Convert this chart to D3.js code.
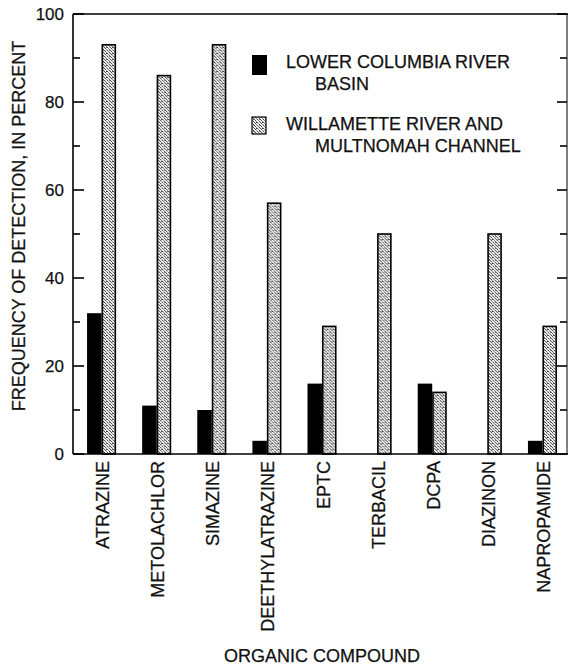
<!DOCTYPE html>
<html>
<head>
<meta charset="utf-8">
<script src="https://cdn.jsdelivr.net/npm/d3@7"></script>
<style>
  body { margin: 0; background: #fff; }
  text { font-family: "Liberation Sans", Arial, sans-serif; fill: #111; stroke: #111; stroke-width: 0.25px; }
</style>
</head>
<body>
<svg id="chart" width="568" height="668"></svg>
<script>
var compounds = ["ATRAZINE", "METOLACHLOR", "SIMAZINE", "DEETHYLATRAZINE", "EPTC",
                 "TERBACIL", "DCPA", "DIAZINON", "NAPROPAMIDE"];
var lowerColumbia = [32, 11, 10, 3, 16, 0, 16, 0, 3];
var willamette = [93, 86, 93, 57, 29, 50, 14, 50, 29];
var seriesNames = ["LOWER COLUMBIA RIVER|BASIN", "WILLAMETTE RIVER AND|MULTNOMAH CHANNEL"];
var yTicks = [0, 20, 40, 60, 80, 100];

var svg = d3.select("svg#chart");

var plotLeft = 73, plotRight = 567, plotTop = 14, plotBottom = 454;

// stipple texture for the Willamette bars (fixed dot layout in a 6x6 tile)
var dots = [[0,0],[3,0],[1,1],[4,1],[5,2],[2,2],[0,3],[3,3],[1,4],[4,4],[2,5],[5,5],[1,2],[4,5]];
var defs = svg.append("defs");
var pat = defs.append("pattern")
    .attr("id", "stipple")
    .attr("width", 6).attr("height", 6)
    .attr("patternUnits", "userSpaceOnUse");
pat.append("rect").attr("width", 6).attr("height", 6).attr("fill", "#f2f2f2");
pat.selectAll("rect.dot")
    .data(dots)
    .enter().append("rect")
    .attr("class", "dot")
    .attr("x", function(d) { return d[0]; })
    .attr("y", function(d) { return d[1]; })
    .attr("width", 1).attr("height", 1)
    .attr("fill", function(d, i) { return i % 3 == 0 ? "#888" : "#444"; });

var x0 = d3.scaleBand()
    .domain(compounds)
    .range([74.5, 570.5]);

var x1 = d3.scaleBand()
    .domain([0, 1])
    .range([-15, 14]);

var y = d3.scaleLinear()
    .domain([0, 100])
    .range([plotBottom, plotTop]);

var data = compounds.map(function(c, i) {
    return { name: c, values: [lowerColumbia[i], willamette[i]] };
});

// bars
var groups = svg.append("g").selectAll("g")
    .data(data)
    .enter().append("g")
    .attr("transform", function(d) { return "translate(" + (x0(d.name) + x0.bandwidth() / 2) + ",0)"; });

groups.selectAll("rect")
    .data(function(d) {
        return d.values.map(function(v, k) { return { k: k, v: v }; })
            .filter(function(e) { return e.v > 0; });
    })
    .enter().append("rect")
    .attr("x", function(d) { return x1(d.k) + (d.k == 1 ? 0.75 : 0); })
    .attr("width", function(d) { return x1.bandwidth() - (d.k == 1 ? 1.5 : 0); })
    .attr("y", function(d) { return y(d.v); })
    .attr("height", function(d) { return y(0) - y(d.v); })
    .attr("fill", function(d) { return d.k == 0 ? "#000" : "url(#stipple)"; })
    .attr("stroke", function(d) { return d.k == 0 ? "none" : "#000"; })
    .attr("stroke-width", 1.6);

// left axis line + inward ticks
var tickVals = d3.range(0, 101, 10);
svg.append("line")
    .attr("x1", plotLeft).attr("x2", plotLeft)
    .attr("y1", y(0)).attr("y2", y(100))
    .attr("stroke", "#000").attr("stroke-width", 1.6);
svg.append("g").selectAll("line")
    .data(tickVals)
    .enter().append("line")
    .attr("x1", plotLeft)
    .attr("x2", function(d) { return plotLeft + (d % 20 == 0 ? 11 : 7); })
    .attr("y1", function(d) { return y(d); })
    .attr("y2", function(d) { return y(d); })
    .attr("stroke", "#000").attr("stroke-width", 1.6);

svg.append("g").selectAll("text")
    .data(yTicks)
    .enter().append("text")
    .attr("x", 64)
    .attr("y", function(d) { return y(d) + 6; })
    .attr("text-anchor", "end")
    .attr("font-size", 17)
    .text(function(d) { return d; });

// right axis ticks
svg.append("line")
    .attr("x1", plotRight).attr("x2", plotRight)
    .attr("y1", y(0)).attr("y2", y(100))
    .attr("stroke", "#000").attr("stroke-width", 1);
svg.append("g").selectAll("line")
    .data(tickVals)
    .enter().append("line")
    .attr("x1", plotRight)
    .attr("x2", function(d) { return plotRight - (d % 20 == 0 ? 10 : 7); })
    .attr("y1", function(d) { return y(d); })
    .attr("y2", function(d) { return y(d); })
    .attr("stroke", "#000").attr("stroke-width", 1.6);

// top and bottom borders
svg.append("line").attr("x1", plotLeft).attr("x2", 568).attr("y1", y(100)).attr("y2", y(100))
    .attr("stroke", "#000").attr("stroke-width", 1.3);
svg.append("line").attr("x1", plotLeft).attr("x2", 568).attr("y1", y(0)).attr("y2", y(0))
    .attr("stroke", "#000").attr("stroke-width", 1.6);

// category labels
svg.append("g").selectAll("text")
    .data(compounds)
    .enter().append("text")
    .attr("transform", function(d) {
        return "translate(" + (x0(d) + x0.bandwidth() / 2 + 7) + "," + 461 + ") rotate(-90)";
    })
    .attr("text-anchor", "end")
    .attr("font-size", 18)
    .text(function(d) { return d; });

// axis titles
svg.append("text")
    .attr("transform", "translate(25," + 226 + ") rotate(-90)")
    .attr("text-anchor", "middle")
    .attr("font-size", 18)
    .text("FREQUENCY OF DETECTION, IN PERCENT");

svg.append("text")
    .attr("x", 322)
    .attr("y", 662)
    .attr("text-anchor", "middle")
    .attr("font-size", 18)
    .text("ORGANIC COMPOUND");

// legend
var legend = svg.append("g").attr("transform", "translate(252,55)");
var items = legend.selectAll("g")
    .data(seriesNames)
    .enter().append("g")
    .attr("transform", function(d, i) { return "translate(0," + (i * 62) + ")"; });

items.append("rect")
    .attr("width", function(d, i) { return i == 0 ? 15 : 14; })
    .attr("height", function(d, i) { return i == 0 ? 20 : 17; })
    .attr("y", 0)
    .attr("fill", function(d, i) { return i == 0 ? "#000" : "url(#stipple)"; })
    .attr("stroke", function(d, i) { return i == 0 ? "none" : "#000"; })
    .attr("stroke-width", 1.2);

items.each(function(d) {
    var lines = d.split("|");
    var g = d3.select(this);
    g.append("text").attr("x", 34).attr("y", 13).attr("font-size", 18).text(lines[0]);
    g.append("text").attr("x", 63).attr("y", 35).attr("font-size", 18).text(lines[1]);
});
</script>
</body>
</html>
